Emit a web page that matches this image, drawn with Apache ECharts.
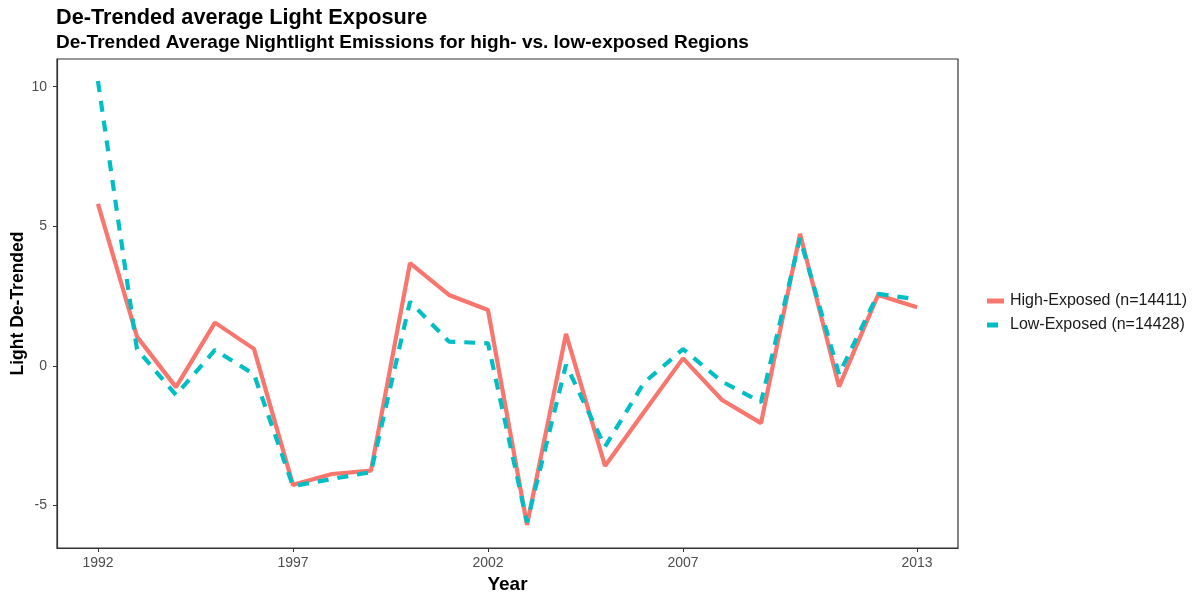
<!DOCTYPE html>
<html>
<head>
<meta charset="utf-8">
<script src="https://cdn.jsdelivr.net/npm/echarts@6/dist/echarts.min.js"></script>
<style>html,body{margin:0;padding:0;background:#fff}#c{width:1201px;height:594px}</style>
</head>
<body>
<div id="c"></div>
<script>
const years = [1992,1993,1994,1995,1996,1997,1998,1999,2000,2001,2002,2003,2004,2005,2006,2007,2008,2009,2010,2011,2012,2013];
const highExposed = [5.8,1.05,-0.76,1.55,0.61,-4.26,-3.87,-3.75,3.68,2.54,2.0,-5.69,1.15,-3.58,-1.65,0.27,-1.22,-2.05,4.73,-0.74,2.54,2.1];
const lowExposed = [10.2,0.6,-1.04,0.57,-0.3,-4.3,-4.05,-3.8,2.3,0.87,0.81,-5.6,0.04,-2.89,-0.6,0.6,-0.56,-1.3,4.57,-0.3,2.58,2.38];
const xTicks = [1992,1997,2002,2007,2013];
const yTicks = [-5,0,5,10];
const seriesNames = ['High-Exposed (n=14411)','Low-Exposed (n=14428)'];

const chart = echarts.init(document.getElementById('c'));
const font = '"Liberation Sans", Arial, sans-serif';
chart.setOption({
  animation: false,
  backgroundColor: '#ffffff',
  title: [
    {text: 'De-Trended average Light Exposure', left: 51, top: 2,
     textStyle: {fontFamily: font, fontSize: 21.7, fontWeight: 'bold', color: '#000'}},
    {text: 'De-Trended Average Nightlight Emissions for high- vs. low-exposed Regions', left: 51, top: 28,
     textStyle: {fontFamily: font, fontSize: 19, fontWeight: 'bold', color: '#000'}}
  ],
  legend: [
    {data: [seriesNames[0]], left: 982, top: 288, orient: 'vertical', itemWidth: 17, itemHeight: 5, icon: 'rect',
     textStyle: {fontFamily: font, fontSize: 16, color: '#1a1a1a', padding: [0,0,0,1]}},
    {data: [seriesNames[1]], left: 982, top: 312, orient: 'vertical', itemWidth: 11, itemHeight: 5, icon: 'rect',
     textStyle: {fontFamily: font, fontSize: 16, color: '#1a1a1a', padding: [0,0,0,7]}}
  ],
  grid: {left: 57, right: 243, top: 59, bottom: 46, show: true, borderColor: '#333333', borderWidth: 1.2,
         containLabel: false, outerBoundsMode: 'none'},
  xAxis: {
    type: 'value', min: 1990.95, max: 2014.05,
    name: 'Year', nameLocation: 'middle', nameGap: 27, nameMoveOverlap: false,
    nameTextStyle: {fontFamily: font, fontSize: 19, fontWeight: 'bold', color: '#000'},
    axisLine: {show: true, onZero: false, lineStyle: {color: '#333', width: 1.2}},
    axisTick: {show: true, customValues: xTicks, length: 4, lineStyle: {color: '#333', width: 1}},
    axisLabel: {customValues: xTicks, margin: 8, fontFamily: font, fontSize: 14, color: '#4d4d4d', formatter: v => String(v)},
    splitLine: {show: false}
  },
  yAxis: {
    type: 'value', min: -6.52, max: 10.99,
    name: 'Light De-Trended', nameLocation: 'middle', nameGap: 30, nameRotate: 90, nameMoveOverlap: false,
    nameTextStyle: {fontFamily: font, fontSize: 17.5, fontWeight: 'bold', color: '#000'},
    axisLine: {show: true, onZero: false, lineStyle: {color: '#333', width: 1.2}},
    axisTick: {show: true, customValues: yTicks, length: 4, lineStyle: {color: '#333', width: 1}},
    axisLabel: {customValues: yTicks, margin: 10, fontFamily: font, fontSize: 14, color: '#4d4d4d', formatter: v => String(v)},
    splitLine: {show: false}
  },
  series: [
    {name: seriesNames[0], type: 'line', symbol: 'none', color: '#F8766D',
     lineStyle: {width: 4.2, color: '#F8766D', type: 'solid'},
     data: years.map((y, i) => [y, highExposed[i]])},
    {name: seriesNames[1], type: 'line', symbol: 'none', color: '#00BFC4',
     lineStyle: {width: 4.2, color: '#00BFC4', type: [11, 9]},
     data: years.map((y, i) => [y, lowExposed[i]])}
  ]
});
</script>
</body>
</html>
